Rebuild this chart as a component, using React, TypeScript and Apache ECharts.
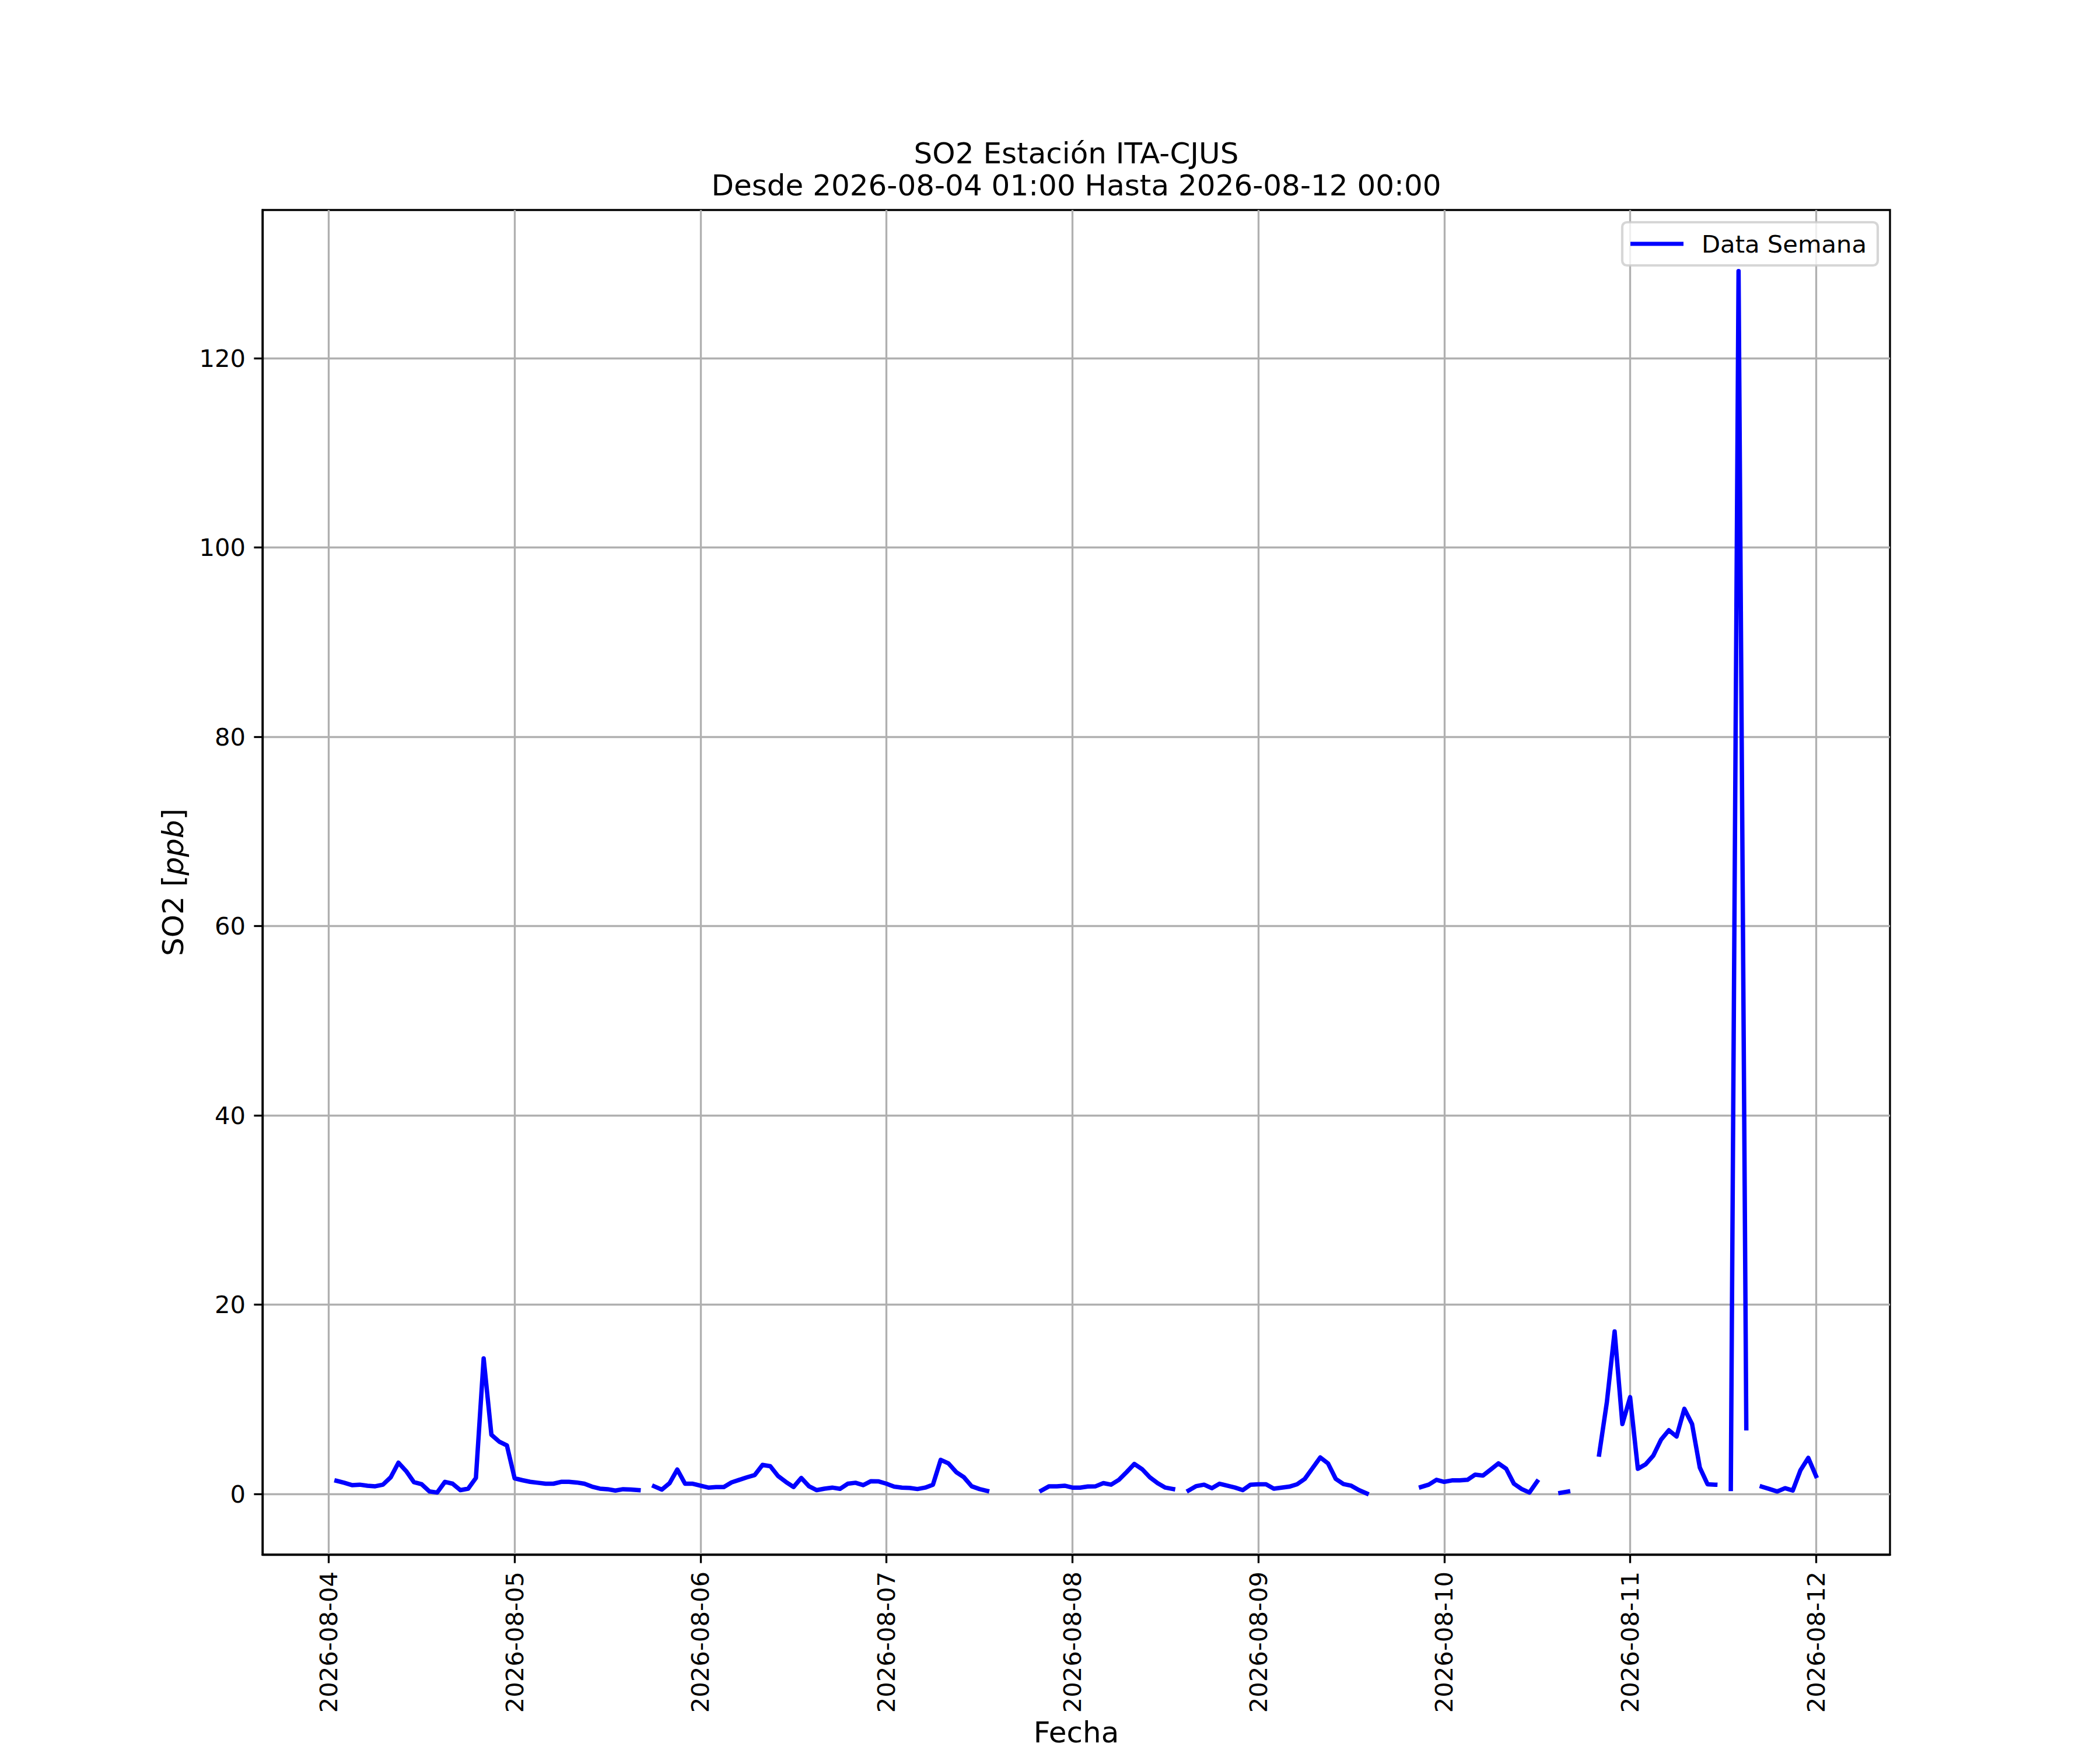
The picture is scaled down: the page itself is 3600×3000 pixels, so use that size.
import React, { useEffect, useRef } from "react";
import * as echarts from "echarts";

// Hourly SO2 values (ppb); null = missing hour
const day04: (number | null)[] = [ // 01:00 .. 23:00
  1.40, 1.19, 0.94, 0.99, 0.88, 0.82, 0.99, 1.77, 3.31, 2.42, 1.25, 1.03,
  0.27, 0.16, 1.29, 1.09, 0.41, 0.57, 1.70, 14.33, 6.26, 5.54, 5.13,
];
const day05: (number | null)[] = [
  1.66, 1.46, 1.29, 1.19, 1.09, 1.09, 1.29, 1.29, 1.22, 1.09, 0.78, 0.57,
  0.51, 0.37, 0.51, 0.47, 0.41, null, 0.82, 0.47, 1.15, 2.59, 1.09, 1.09,
];
const day06: (number | null)[] = [
  0.88, 0.68, 0.74, 0.74, 1.23, 1.50, 1.77, 2.01, 3.08, 2.94, 1.91, 1.29,
  0.74, 1.70, 0.82, 0.41, 0.57, 0.68, 0.55, 1.09, 1.19, 0.94, 1.36, 1.33,
];
const day07: (number | null)[] = [
  1.09, 0.78, 0.68, 0.64, 0.53, 0.68, 0.99, 3.61, 3.24, 2.32, 1.77, 0.82,
  0.53, 0.33, null, null, null, null, null, null, 0.37, 0.82, 0.82, 0.88,
];
const day08: (number | null)[] = [
  0.68, 0.68, 0.80, 0.82, 1.15, 0.99, 1.50, 2.32, 3.18, 2.63, 1.77, 1.15,
  0.68, 0.53, null, 0.37, 0.84, 0.99, 0.62, 1.09, 0.88, 0.68, 0.41, 0.99,
];
const day09: (number | null)[] = [
  1.03, 1.03, 0.57, 0.68, 0.78, 1.03, 1.60, 2.73, 3.86, 3.24, 1.60, 1.05,
  0.88, 0.41, 0.06, null, null, null, null, null, null, 0.74, 0.99, 1.50,
];
const day10: (number | null)[] = [
  1.29, 1.44, 1.44, 1.50, 2.05, 1.95, 2.59, 3.24, 2.67, 1.09, 0.53, 0.16,
  1.33, null, null, 0.12, 0.27, null, null, null, 4.17, 9.71, 17.17, 7.39,
];
const day11: (number | null)[] = [
  10.23, 2.67, 3.14, 4.07, 5.75, 6.74, 6.08, 9.00, 7.39, 2.79, 1.03, 0.99,
  null, 0.53, 129.2, 6.94, null, 0.78, 0.53, 0.27, 0.62, 0.37, 2.53, 3.82,
];
const day12: (number | null)[] = [1.91]; // 00:00

const firstHour = 1; // hours after 2026-08-04 00:00
const dayLabels = [
  "2026-08-04", "2026-08-05", "2026-08-06", "2026-08-07", "2026-08-08",
  "2026-08-09", "2026-08-10", "2026-08-11", "2026-08-12",
];
const yTicks = [0, 20, 40, 60, 80, 100, 120];
const seriesName = "Data Semana";
const titleLine1 = "SO2 Estación ITA-CJUS";
const titleLine2 = "Desde 2026-08-04 01:00 Hasta 2026-08-12 00:00";

const FONT = "DejaVu Sans";

export default function App() {
  const ref = useRef<HTMLDivElement>(null);
  useEffect(() => {
    document.body.style.margin = "0";
    if (!ref.current) return;
    const chart = echarts.init(ref.current, null, { renderer: "svg" });
    const values = [
      ...day04, ...day05, ...day06, ...day07, ...day08,
      ...day09, ...day10, ...day11, ...day12,
    ];
    const data = values.map((v, i) => [firstHour + i, v === null ? "-" : v]);
    const n = values.length;
    const lastHour = firstHour + n - 1;
    const xr = lastHour - firstHour;
    const xMin = firstHour - 0.05 * xr;
    const xMax = lastHour + 0.05 * xr;
    const nums = values.filter((v) => v !== null) as number[];
    const vMin = Math.min(...nums);
    const vMax = Math.max(...nums);
    const yr = vMax - vMin;
    const yMin = vMin - 0.05 * yr;
    const yMax = vMax + 0.05 * yr;
    const xTicks = dayLabels.map((_, i) => i * 24);

    const lw = 3.33;
    const blue = "#0000ff";
    chart.setOption({
      animation: false,
      backgroundColor: "#ffffff",
      textStyle: { fontFamily: FONT },
      grid: {
        left: 450,
        right: 360,
        top: 360,
        bottom: 330,
        show: true,
        borderColor: "#000000",
        borderWidth: lw,
        backgroundColor: "transparent",
        containLabel: false,
      },
      graphic: [
        {
          type: "text",
          x: 1845,
          y: 263,
          style: {
            text: titleLine1,
            font: `50px "${FONT}"`,
            fill: "#000000",
            textAlign: "center",
            textVerticalAlign: "middle",
          },
        },
        {
          type: "text",
          x: 1845,
          y: 318,
          style: {
            text: titleLine2,
            font: `50px "${FONT}"`,
            fill: "#000000",
            textAlign: "center",
            textVerticalAlign: "middle",
          },
        },
      ],
      legend: {
        show: true,
        right: 381,
        top: 381,
        orient: "vertical",
        padding: [16, 19, 16, 14],
        itemWidth: 91,
        itemHeight: 7,
        backgroundColor: "rgba(255,255,255,0.8)",
        borderColor: "rgba(204,204,204,0.8)",
        borderWidth: 4.17,
        borderRadius: 8,
        textStyle: {
          fontFamily: FONT,
          fontSize: 41.7,
          color: "#000000",
          padding: [0, 0, 0, 26],
        },
        data: [
          {
            name: seriesName,
            icon: "rect",
            itemStyle: { color: blue, borderWidth: 0 },
          },
        ],
      },
      xAxis: {
        type: "value",
        min: xMin,
        max: xMax,
        name: "Fecha",
        nameLocation: "middle",
        nameGap: 280,
        nameTextStyle: { fontFamily: FONT, fontSize: 50, color: "#000000", verticalAlign: "top" },
        axisLine: { show: true, onZero: false, lineStyle: { color: "#000000", width: lw } },
        axisTick: {
          show: true,
          inside: false,
          length: 14.6,
          lineStyle: { color: "#000000", width: lw },
          customValues: xTicks,
        },
        axisLabel: {
          show: true,
          rotate: 90,
          margin: 29,
          fontFamily: FONT,
          fontSize: 41.7,
          color: "#000000",
          customValues: xTicks,
          formatter: (v: number) => dayLabels[Math.round(v / 24)] ?? "",
        },
        splitLine: {
          show: true,
          lineStyle: { color: "#b0b0b0", width: lw },
        },
      },
      yAxis: {
        type: "value",
        min: yMin,
        max: yMax,
        name: "SO2 [{i|ppb}]",
        nameLocation: "middle",
        nameRotate: 90,
        nameGap: 128,
        nameTextStyle: {
          fontFamily: FONT,
          fontSize: 50,
          color: "#000000",
          rich: {
            i: { fontFamily: FONT, fontSize: 50, fontStyle: "italic", color: "#000000" },
          },
        },
        axisLine: { show: true, onZero: false, lineStyle: { color: "#000000", width: lw } },
        axisTick: {
          show: true,
          inside: false,
          length: 14.6,
          lineStyle: { color: "#000000", width: lw },
          customValues: yTicks,
        },
        axisLabel: {
          show: true,
          margin: 29,
          fontFamily: FONT,
          fontSize: 41.7,
          color: "#000000",
          customValues: yTicks,
          formatter: (v: number) => String(Math.round(v)),
        },
        splitLine: {
          show: true,
          lineStyle: { color: "#b0b0b0", width: lw },
        },
      },
      series: [
        {
          name: seriesName,
          type: "line",
          data,
          showSymbol: false,
          symbol: "none",
          connectNulls: false,
          clip: true,
          color: blue,
          lineStyle: { color: blue, width: 7.5, cap: "square", join: "round" },
          emphasis: { disabled: true },
        },
      ],
    });
    return () => chart.dispose();
  }, []);
  return (
    <div
      ref={ref}
      style={{ position: "absolute", left: 0, top: 0, width: 3600, height: 3000 }}
    />
  );
}
